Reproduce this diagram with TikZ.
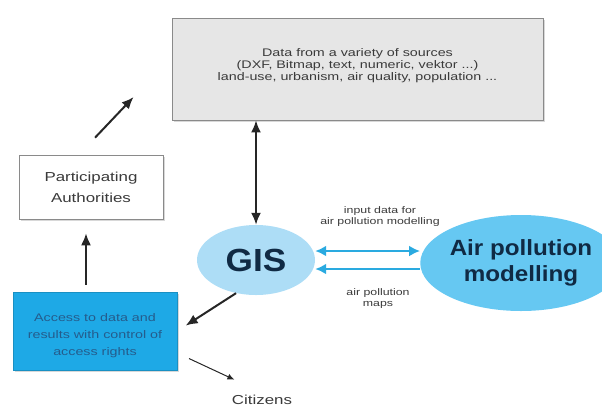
\documentclass[tikz,border=0pt]{standalone}
\usepackage{fontspec}
\setmainfont{Liberation Sans}[FakeStretch=1.3]
\newfontfamily\headfont{Liberation Sans}[FakeStretch=1.1]
\usetikzlibrary{shapes.geometric, arrows.meta, positioning, shadows}

\definecolor{boxgray}{HTML}{E6E6E6}
\definecolor{edgegray}{HTML}{8A8A8A}
\definecolor{txtgray}{HTML}{3A3A3A}
\definecolor{gislight}{HTML}{ADDDF6}
\definecolor{apmblue}{HTML}{66C8F2}
\definecolor{accblue}{HTML}{1EA9E6}
\definecolor{acctext}{HTML}{255C8C}
\definecolor{navy}{HTML}{102A44}
\definecolor{linkcyan}{HTML}{2AAAE0}

\begin{document}
\begin{tikzpicture}[x=1pt, y=-1pt]
\tikzstyle{shade} = [drop shadow={shadow xshift=2pt, shadow yshift=-2pt, fill=black!30}]
\tikzstyle{databox} = [rectangle, draw=edgegray, line width=0.8pt, fill=boxgray, minimum width=371pt, minimum height=102pt, shade]
\tikzstyle{datatxt} = [align=center, text=txtgray, font=\fontsize{11}{11.7}\selectfont]
\tikzstyle{authbox} = [rectangle, draw=edgegray, line width=0.6pt, fill=white, minimum width=144pt, minimum height=64pt, align=center, text=txtgray, font=\fontsize{13}{21}\selectfont, shade]
\tikzstyle{accbox} = [rectangle, draw=accblue!85!black, line width=0.5pt, fill=accblue, minimum width=164pt, minimum height=78pt, shade]
\tikzstyle{acctxt} = [align=center, text=acctext, font=\fontsize{11}{17}\selectfont]
\tikzstyle{gisell} = [ellipse, fill=gislight, minimum width=118pt, minimum height=70pt, inner sep=0pt, text=navy, font=\headfont\bfseries\fontsize{32}{32}\selectfont]
\tikzstyle{apmell} = [ellipse, fill=apmblue, minimum width=168pt, minimum height=96pt, inner sep=0pt, align=center, text=navy, font=\headfont\bfseries\fontsize{22}{26}\selectfont]
\tikzstyle{smalltxt} = [align=center, text=txtgray, font=\fontsize{9.5}{11}\selectfont]
\tikzstyle{cittxt} = [text=txtgray, font=\fontsize{13}{13}\selectfont]
\tikzstyle{connect} = [-{Latex[length=12pt, width=10pt]}, line width=2pt, black!85]
\tikzstyle{biconnect} = [{Latex[length=12pt, width=10pt]}-{Latex[length=12pt, width=10pt]}, line width=2pt, black!85]
\tikzstyle{thinconnect} = [-{Latex[length=7pt, width=6pt]}, line width=1pt, black!85]
\tikzstyle{link} = [line width=2.6pt, linkcyan]

\useasboundingbox (0,0) rectangle (602,408);

  % sources and participants
  \node[databox] (data) at (357.5,69) {};
  \node[datatxt, yshift=3.5pt] (datatxt) at (data.center) {Data from a variety of sources\\(DXF, Bitmap, text, numeric, vektor ...)\\land-use, urbanism, air quality, population ...};
  \node[authbox] (auth) at (91,187) {Participating\\Authorities};
  \node[accbox] (access) at (95,331) {};
  \node[acctxt, yshift=-4.5pt] (acctxt) at (access.center) {Access to data and\\results with control of\\access rights};
  \node[cittxt] (cit) at (262,400) {Citizens};

  % GIS and the model
  \node[gisell] (gis) at (256,260) {GIS};
  \node[apmell] (apm) at (521,263) {Air pollution\\modelling};
  \node[smalltxt] (inlbl) at (380,217) {input data for\\air pollution modelling};
  \node[smalltxt] (maplbl) at (378,299) {air pollution\\maps};

  \coordinate (ua) at ([xshift=4pt, yshift=17pt]auth.north);
  \coordinate (ub) at ([xshift=-38pt, yshift=-28pt]data.west);
  \coordinate (ct) at ([xshift=6pt, yshift=12pt]cit.north west);

\draw[biconnect] (gis.north) -- (gis.north |- data.south);
\draw[link, {Latex[length=11pt, width=11pt]}-{Latex[length=11pt, width=11pt]}] ([yshift=9pt]gis.east) -- ([yshift=9pt]gis.east -| apm.west);
\draw[link, -{Latex[length=11pt, width=11pt]}] ([yshift=-9pt]gis.east -| apm.west) -- ([yshift=-9pt]gis.east);
\draw[connect] (ua) -- (ub);
\draw[connect, shorten <=7pt, shorten >=14pt] ([xshift=-9pt]access.north) -- ([xshift=-9pt]access.north |- auth.south);
\draw[connect, shorten >=10pt] (gis.239) -- (access.east);
\draw[thinconnect, shorten <=13pt] (access.-15) -- (ct);
\end{tikzpicture}
\end{document}
